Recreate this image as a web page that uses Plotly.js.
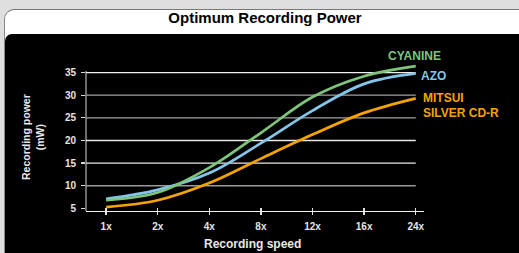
<!DOCTYPE html>
<html>
<head>
<meta charset="utf-8">
<script src="https://cdn.plot.ly/plotly-3.0.1.min.js"></script>
<style>
  html, body { margin:0; padding:0; width:519px; height:253px; overflow:hidden; background:#dfdfdf; }
  #panel { position:absolute; left:4px; top:9px; width:540px; height:270px; background:#fff;
           border-top:1px solid #777; border-left:1px solid #888; border-top-left-radius:10px; }
  #dark { position:absolute; left:5px; top:34px; width:540px; height:260px; background:#000;
          border-top-left-radius:7px; }
  #chart { position:absolute; left:0; top:0; width:519px; height:253px; }
</style>
</head>
<body>
<div id="panel"></div>
<div id="dark"></div>
<div id="chart"></div>
<script>
const speeds = ['1x', '2x', '4x', '8x', '12x', '16x', '24x'];
const cyanine = [6.8, 8.5, 14.0, 21.7, 29.6, 34.2, 36.4];
const azo     = [7.1, 9.1, 12.8, 19.4, 26.6, 32.5, 34.8];
const mitsui  = [5.3, 6.8, 10.6, 16.0, 21.3, 26.1, 29.3];
const yTicks  = [5, 10, 15, 20, 25, 30, 35];
const gridColors = ['#888', '#9a9a9a', '#e8e8e8', '#e8e8e8', '#a0a0a0', '#a0a0a0', '#f0f0f0'];

const idx = speeds.map((s, i) => i);
const FONT = 'Liberation Sans, Arial, sans-serif';
const GREEN = '#7ec57b', BLUE = '#84c6ea', ORANGE = '#f4a300';
const Y0 = 4.43, YAXTOP = 35.35, YTOP = 37.55;
const PB = 211, PH = 150;   // plot bottom pixel and plot height

function series(y, color) {
  return { x: idx, y: y, type: 'scatter', mode: 'lines',
           line: { color: color, width: 2.7, shape: 'spline', smoothing: 1 },
           hoverinfo: 'skip', showlegend: false };
}

const traces = [series(mitsui, ORANGE), series(azo, BLUE), series(cyanine, GREEN)];

const shapes = yTicks.slice(1).map((v, i) => ({
  type: 'line', xref: 'x', yref: 'y', x0: -0.39, x1: idx[idx.length - 1], y0: v, y1: v,
  line: { color: gridColors[i + 1], width: 1.3 }, layer: 'below'
}));
// y axis line (stops at the top of the scale, the curves may run above it)
shapes.push({ type: 'line', xref: 'paper', yref: 'y', x0: 0, x1: 0, y0: Y0, y1: YAXTOP,
              line: { color: '#a8a8a8', width: 1.3 }, layer: 'below' });

const tickFont = { family: FONT, size: 10, color: '#e4e4e4', weight: 'bold' };

const layout = {
  width: 519, height: 253,
  margin: { l: 86, r: 95, t: PB - PH, b: 253 - PB, pad: 0 },
  paper_bgcolor: 'rgba(0,0,0,0)', plot_bgcolor: 'rgba(0,0,0,0)',
  title: { text: '<b>Optimum Recording Power</b>', x: (265 - 86) / 338, xref: 'paper', xanchor: 'center',
           y: 1, yref: 'container', yanchor: 'top', pad: { t: 12 },
           font: { family: FONT, size: 15, color: '#000' } },
  xaxis: { range: [-0.39, 6.16], tickvals: idx, ticktext: speeds, showgrid: false, zeroline: false,
           showline: true, linecolor: '#f0f0f0', linewidth: 1.3,
           ticks: 'outside', ticklen: 3, tickwidth: 1.3, tickcolor: '#e0e0e0',
           tickfont: tickFont, ticklabelstandoff: 3, fixedrange: true },
  xaxis2: { overlaying: 'x', anchor: 'y', side: 'bottom', range: [-0.39, 6.16], tickvals: idx,
            showticklabels: false, showgrid: false, zeroline: false, showline: false,
            ticks: 'inside', ticklen: 3, tickwidth: 1.3, tickcolor: '#e0e0e0' },
  yaxis: { range: [Y0, YTOP], tickvals: yTicks, showgrid: false, zeroline: false,
           showline: false,
           ticks: 'outside', ticklen: 4, tickwidth: 1.3, tickcolor: '#d8d8d8',
           tickfont: tickFont, ticklabelstandoff: 3, fixedrange: true },
  shapes: shapes,
  annotations: [
    { text: '<b>CYANINE</b>', xref: 'paper', yref: 'paper', x: (414 - 86) / 338, y: (PB - 56) / PH,
      xanchor: 'center', yanchor: 'middle',
      showarrow: false, font: { family: FONT, size: 12, color: GREEN } },
    { text: '<b>AZO</b>', xref: 'x', yref: 'y', x: 6.07, y: 34.2, xanchor: 'left', yanchor: 'middle',
      showarrow: false, font: { family: FONT, size: 12, color: BLUE } },
    { text: '<b>MITSUI</b>', xref: 'x', yref: 'y', x: 6.1, y: 29.3, xanchor: 'left', yanchor: 'middle',
      showarrow: false, font: { family: FONT, size: 12, color: ORANGE } },
    { text: '<b>SILVER CD-R</b>', xref: 'x', yref: 'y', x: 6.1, y: 26.1, xanchor: 'left', yanchor: 'middle',
      showarrow: false, font: { family: FONT, size: 12, color: ORANGE } },
    { text: '<b>Recording speed</b>', xref: 'paper', yref: 'paper', x: (252.5 - 86) / 338, y: (PB - 244) / PH,
      xanchor: 'center', yanchor: 'middle', showarrow: false,
      font: { family: FONT, size: 12, color: '#e8e8e8' } },
    { text: '<b>Recording power<br>(mW)</b>', xref: 'paper', yref: 'paper', x: (33 - 86) / 338, y: (PB - 137) / PH,
      xanchor: 'center', yanchor: 'middle', textangle: -90, showarrow: false,
      font: { family: FONT, size: 10.5, color: '#e8e8e8' } }
  ]
};

// dummy trace on xaxis2 so its inside ticks are drawn
traces.push({ x: [0], y: [null], xaxis: 'x2', type: 'scatter', mode: 'lines', showlegend: false, hoverinfo: 'skip' });

Plotly.newPlot('chart', traces, layout, { displayModeBar: false, staticPlot: true });
</script>
</body>
</html>
